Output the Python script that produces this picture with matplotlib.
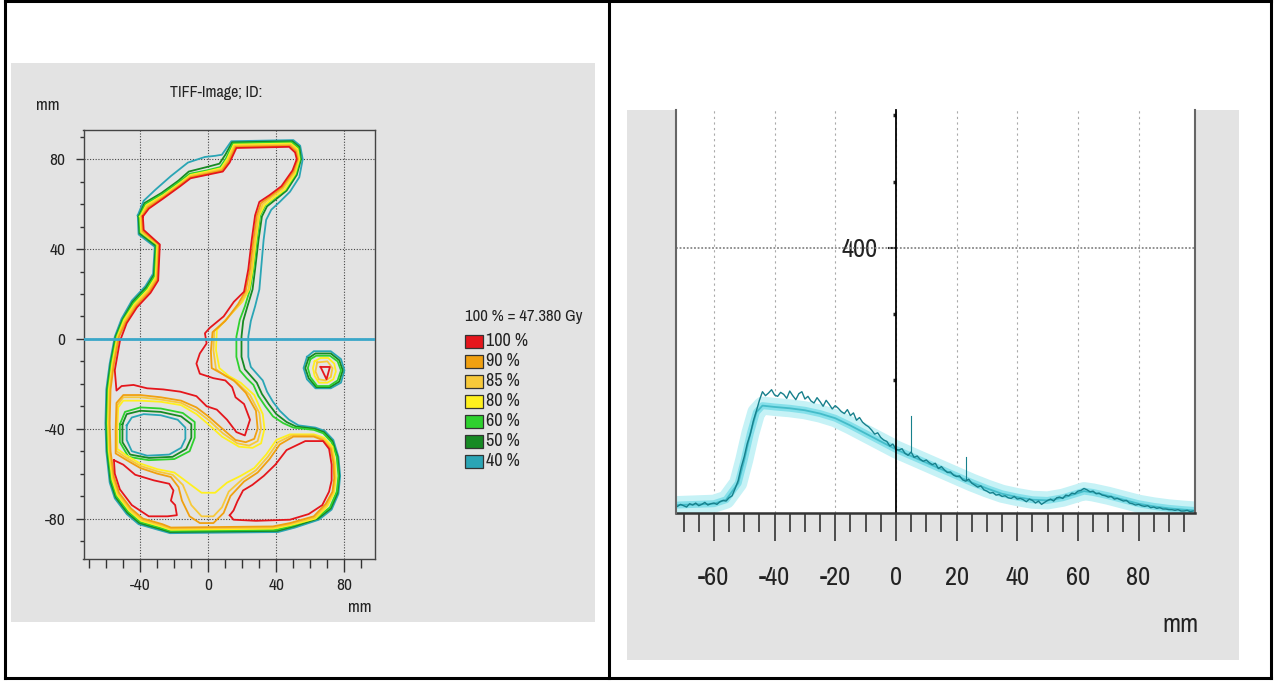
import numpy as np
import matplotlib
matplotlib.use('Agg')
import matplotlib.pyplot as plt
from matplotlib.patches import Rectangle
from matplotlib.lines import Line2D

W, H = 1278, 682

plt.rcParams['font.family'] = ['Archivo Narrow', 'Liberation Sans Narrow', 'Liberation Sans', 'DejaVu Sans']
plt.rcParams['axes.unicode_minus'] = False

# ---------------- isodose legend ----------------
legend_title = '100 % = 47.380 Gy'
iso_labels = ['100 %', '90 %', '85 %', '80 %', '60 %', '50 %', '40 %']
iso_colors = ['#e5161c', '#f0a010', '#f7c93a', '#fff01e', '#2ed12e', '#178a24', '#2aa5b5']

# ---------------- isodose contours (mm) ----------------
# 100 %
red_upper = [(-38.5, 54.5), (-35, 58), (-26.5, 62.5), (-16.5, 68), (-10.5, 71.5), (-1, 73), (8.5, 74.5),
             (12.5, 78.5), (16.5, 85), (47.5, 85.5), (51, 83), (52, 80), (49.5, 75), (43, 68), (36, 64),
             (30, 61), (27.5, 55), (25.5, 44), (23.5, 31), (21, 21), (15, 16.5), (9, 10), (1, 5), (-2, 2.5),
             (-1, -2), (-5, -6.5), (-7, -11), (-5, -15.5), (3, -17.5), (10, -18.5), (14, -21.5), (16, -26),
             (21, -29), (24.5, -36), (21.5, -43), (16.5, -41.5), (11, -36), (5, -31.5), (-1, -30), (-7, -25.5),
             (-16.5, -23.5), (-26.5, -22.5), (-36, -22), (-44, -20.5), (-51, -21), (-54, -23), (-55, -14),
             (-52, -1), (-48, 7), (-42, 14), (-34, 20.5), (-29.5, 26), (-28.5, 42), (-38, 48.5)]
red_lowleft = [(-55.5, -54), (-50, -56), (-43, -60.5), (-32, -63), (-23, -64.5), (-20.5, -67.5), (-22, -72),
               (-19.5, -74), (-18.5, -78.5), (-24, -79), (-35, -79), (-45, -74), (-52, -67), (-55, -60)]
red_lowright = [(12.6, -78.5), (14.8, -76.4), (17.1, -72.3), (20.4, -67.5), (25.9, -65), (32.6, -61),
                (39.4, -56), (46, -49.5), (57, -45.5), (67.5, -45.5), (71, -49), (72.5, -56), (72.5, -63),
                (71, -68), (67, -74), (59, -78), (48, -80.5), (28, -81), (14.8, -80.5)]
red_island = [(66, -12.5), (71.5, -12.5), (69.5, -18)]

# 90 %
orange_main = [(-39, 54.5), (-35.5, 58.5), (-26.5, 63), (-16.5, 68.5), (-10.5, 72), (-1, 73.5), (8, 75),
               (12, 79), (16, 85.5), (48, 86), (51.5, 83.5), (52.5, 80), (50, 74.5), (43.5, 67.5), (36.5, 63.5),
               (31, 60.5), (28.5, 55), (26.5, 44), (24.5, 31), (22, 21.5), (17.5, 15.5), (10, 8), (2.5, 3),
               (1.5, -5.5), (2, -13), (8, -15.5), (15, -18.5), (22, -24), (28, -32), (29, -40), (27, -44.5),
               (22, -46), (16, -45), (9, -40.5), (0, -34.5), (-7, -30.5), (-16, -27.5), (-28, -26), (-40, -25),
               (-50, -25), (-54, -28.5), (-54.5, -40), (-54.5, -51), (-48, -54), (-40, -57.5), (-30, -60),
               (-22, -61.5), (-17.5, -66), (-15.5, -72), (-11, -79), (-5, -82), (3, -82), (9, -77.5), (13, -70),
               (21, -63.5), (29, -59.5), (36, -53.5), (42, -47), (50, -43.5), (62, -43.5), (67, -45), (72, -49),
               (73.5, -55), (74, -62), (73, -68), (69, -73.5), (62, -79), (48, -82), (38, -83.5), (-22, -84),
               (-27, -82.5), (-38.5, -80), (-45.5, -75.5), (-52.5, -68.5), (-55.5, -61.5), (-57.5, -50),
               (-58, -37.5), (-57.5, -22.5), (-55.5, -11), (-52.5, 1), (-48.5, 7.5), (-42.5, 14.5), (-34.5, 21),
               (-30, 26.5), (-29, 42), (-38.5, 48)]

# 85 %
ltorange_main = [(-39.5, 54.5), (-36, 59), (-26.5, 63.5), (-16.5, 69), (-10.5, 72.5), (-1, 74), (8, 75.5),
                 (11.5, 79.5), (15.5, 86), (48.5, 86.5), (52, 84), (53, 80), (50.5, 74), (44, 67), (37, 63),
                 (32, 60), (29.5, 55), (27.5, 44), (25.5, 31), (23.5, 22), (19, 16), (11, 9), (3.5, 3.5),
                 (3, -5), (4.5, -13.5), (10, -16.5), (17, -19.5), (24.5, -25), (30, -33), (31, -40), (29, -45.5),
                 (24, -47.5), (17, -46.5), (8.5, -42), (0, -36), (-7, -32), (-16, -28.5), (-28, -27), (-40, -26),
                 (-50, -26), (-53.5, -29.5), (-54, -40), (-54, -50), (-48, -53), (-40, -56.5), (-30, -59),
                 (-21, -60.5), (-15, -65), (-10, -74), (-4, -79), (3, -79), (8, -75), (12, -68), (20, -62.5),
                 (28, -58.5), (35, -52.5), (41, -46), (49, -43), (62, -43), (67.5, -44.5), (72.5, -48.5),
                 (74, -55), (74.5, -62), (73.5, -68), (69.5, -74), (62.5, -79.5), (48, -82.5), (38, -84),
                 (-22, -84.5), (-27.5, -83), (-39, -80.5), (-46, -76), (-53, -69), (-56, -62), (-58, -50),
                 (-58.5, -37.5), (-58, -22.5), (-56, -11), (-53, 1), (-49, 8), (-43, 15), (-35, 21.5),
                 (-30.5, 27), (-29.5, 42), (-39, 47.5)]
ltorange_island = [(64, -10.5), (70, -10), (73, -13), (72, -17), (69, -18.5), (65, -18), (63, -14.5)]

# 80 %
yellow_main = [(-40, 54.5), (-36.5, 59.5), (-26.5, 64), (-16.5, 69.5), (-10.5, 73), (-1, 74.5), (7.5, 76),
               (11, 80), (15, 86.5), (48.5, 87), (52.5, 84.5), (53.5, 80), (51, 73.5), (45, 66.5), (38, 62.5),
               (33, 59.5), (30, 55), (28, 44), (26, 31), (24, 22), (20, 16.5), (12, 10), (5, 4), (4.5, -5),
               (6.5, -13), (12, -16.5), (19, -19.5), (27, -25), (32, -33.5), (33, -40), (31, -46.5), (26, -48.5),
               (18, -48), (8, -43.5), (0, -38), (-7, -33.5), (-16, -29.5), (-28, -28), (-40, -27.5), (-50, -27.5),
               (-53, -30.5), (-53.5, -40), (-53.5, -49), (-48, -52), (-40, -55.5), (-30, -58), (-20, -59.5),
               (-12, -64), (-4, -68.5), (4, -68.5), (11, -64), (19, -61), (27, -57.5), (34, -51.5), (40, -45),
               (48, -42.5), (62, -42.5), (68, -44), (73, -48), (74.5, -55), (75, -62), (74, -68.5), (70, -74.5),
               (63, -80), (48, -83), (38, -84.5), (-22, -85), (-28, -83.5), (-39.5, -81), (-46.5, -76.5),
               (-53.5, -69.5), (-56.5, -62.5), (-58.5, -50), (-59, -37.5), (-58.5, -22.5), (-56.5, -11),
               (-53.5, 1), (-49.5, 8.5), (-43.5, 15.5), (-35.5, 22), (-31, 27.5), (-30, 42), (-39.5, 47.5)]
yellow_island = [(62.5, -10), (66, -8.5), (70.5, -8.5), (74, -11), (75, -14.5), (73.5, -18), (70, -19.5),
                 (65, -19.5), (62.5, -16.5), (61.5, -13)]

# 60 %
green_main = [(-40.5, 54.5), (-37, 60), (-27, 64.5), (-17, 70), (-11, 73.5), (-1, 75), (7, 76.5), (10.5, 80.5),
              (14.5, 87), (49, 87.5), (53, 85), (54, 80), (51.5, 73.5), (45.5, 66.5), (38.5, 62.5), (33.5, 59.5),
              (30.5, 55), (28.5, 44), (26.5, 31), (24.5, 22), (21.5, 14.5), (18.5, 8.5), (16.5, 1), (16.5, -8),
              (18.5, -14), (22.5, -17.5), (26.5, -20.5), (29.5, -25.5), (33.5, -30), (38, -34.5), (44, -37.5),
              (50, -39.5), (62, -40.5), (67.5, -42), (72.5, -46), (75.5, -52.5), (76.5, -61), (75.5, -68),
              (71.5, -75), (64, -79.5), (50, -83), (40, -85), (-22.5, -85.5), (-28.5, -84), (-40, -81.5),
              (-47, -77), (-54, -70), (-57, -63), (-59, -50), (-59.5, -37.5), (-59, -22.5), (-57, -11),
              (-54, 1), (-50, 8.5), (-44, 16), (-36, 22.5), (-31.5, 28), (-30.5, 42), (-40, 47.5)]
green_hole = [(-52, -38), (-49, -32.5), (-40, -30.5), (-28, -31), (-15, -33), (-8, -37), (-8, -44), (-11, -50),
              (-20, -53.5), (-35, -54), (-47, -52.5), (-52, -46)]
green_island = [(60, -9), (63.5, -7.5), (71.5, -7.5), (76, -10), (78, -14), (76, -18.5), (71, -21), (64, -21),
                (60, -17), (58.5, -13)]

# 50 %
dkgreen_main = [(-41, 54.5), (-37.5, 60.5), (-27.5, 65), (-17.5, 70.5), (-11.5, 74.5), (-1, 76.5), (6.5, 78),
                (10, 82), (14, 87.5), (49.5, 88), (53.5, 85.5), (54.5, 80), (52, 73), (46, 66), (39.5, 62),
                (34.5, 59), (31.5, 54.5), (29.5, 44), (27.5, 31), (26, 22), (23, 14.5), (20.5, 8), (19.5, 1),
                (19.5, -8), (21.5, -13.5), (25, -16.5), (28.5, -19.5), (31.5, -24.5), (35.5, -29), (40, -33.5),
                (46, -37), (51.5, -39), (62.5, -40), (68, -41.5), (73, -45.5), (76, -52.5), (77, -61),
                (76, -68.5), (72, -75.5), (64.5, -80), (50.5, -83.5), (40.5, -85.5), (-22.5, -86), (-29, -84.5),
                (-40.5, -82), (-47.5, -77.5), (-54.5, -70.5), (-57.5, -63.5), (-59.5, -50), (-60, -37.5),
                (-59.5, -22.5), (-57.5, -11), (-54.5, 1), (-50.5, 8.5), (-44.5, 16.5), (-36.5, 23), (-32, 28.5),
                (-31, 41.5), (-40.5, 47)]
dkgreen_hole = [(-50.5, -38), (-48, -33.5), (-40, -32), (-28, -32.5), (-16, -34.5), (-10, -38), (-10, -44),
                (-13, -49), (-21, -52.5), (-35, -53), (-46, -51.5), (-50.5, -46)]
dkgreen_island = [(59, -8.5), (63, -6.5), (72, -6.5), (77, -9.5), (79, -14), (77, -19), (71.5, -21.5),
                  (63.5, -21.5), (59, -17.5), (57, -13)]

# 40 %
teal_main = [(-41.5, 55), (-38, 61.5), (-31, 66.5), (-22, 72.5), (-12, 78.5), (-2, 81), (4, 81.5), (8, 82),
             (13.5, 88), (50, 88.5), (54, 86), (55.5, 80), (53.5, 72), (48, 65.5), (42, 61), (37, 57.5),
             (34, 53), (32.5, 44), (31, 31), (30, 22), (27.5, 14.5), (25, 8), (23.5, 1), (23.5, -8), (25, -12.5),
             (28.5, -15.5), (32, -18.5), (34.5, -23.5), (38, -28), (42, -32), (47.5, -36), (53, -38.5),
             (63, -39.5), (68.5, -41), (73.5, -45), (76.5, -52.5), (77.5, -61), (76.5, -69), (72.5, -76),
             (65, -80.5), (51, -84), (41, -86), (-22.5, -86.5), (-29.5, -85), (-41, -82.5), (-48, -78),
             (-55, -71), (-58, -64), (-60, -50), (-60.5, -37.5), (-60, -22.5), (-58, -11), (-55, 1), (-51, 9),
             (-45, 17), (-37, 23.5), (-32.5, 29), (-31.5, 41), (-41, 46.5)]
teal_hole = [(-48, -38.5), (-45, -35), (-38, -33.5), (-28, -34), (-18, -36), (-13.5, -39.5), (-13.5, -44.5),
             (-16, -48.5), (-23, -51.5), (-36, -52), (-45, -50), (-48, -45)]
teal_island = [(58, -8), (62, -5.5), (72, -5.5), (78, -9), (80, -14), (78, -19.5), (72, -22), (63, -22),
               (58, -18), (56, -13)]

# drawn from the lowest level up
iso_contours = [
    ('#2aa5b5', [teal_main, teal_hole, teal_island]),
    ('#178a24', [dkgreen_main, dkgreen_hole, dkgreen_island]),
    ('#2ed12e', [green_main, green_hole, green_island]),
    ('#fff01e', [yellow_main, yellow_island]),
    ('#f7c93a', [ltorange_main, ltorange_island]),
    ('#f0a010', [orange_main]),
    ('#e5161c', [red_upper, red_lowleft, red_lowright, red_island]),
]

# ---------------- profile (right panel) ----------------
meas_x = np.arange(-72, 99)
meas_y = [10, 13, 11, 9, 14, 12, 15, 11, 13, 16, 12, 14,
          15, 13, 17, 19, 18,
          23, 26, 37, 49, 69,
          85, 105, 119, 139, 154, 170,
          183, 177, 181, 186, 178,
          176, 182, 179, 173, 184, 177, 171, 180, 183, 172,
          176, 169, 166, 174, 168, 161, 170, 164, 157, 162,
          158, 153, 150, 156, 147, 151, 140, 144, 137, 133,
          130, 125, 119, 121, 114, 110, 108, 101, 104, 96,
          95, 97, 90, 87, 92, 84, 86, 81, 78, 80,
          76, 73, 75, 67, 70, 65, 61, 62, 57, 55,
          56, 50, 48, 51, 45, 42, 39, 41, 35, 33,
          30, 31, 27, 28, 25, 26, 23, 22, 25, 21,
          22, 20, 17, 21, 19, 15, 18, 13, 16, 19,
          21, 18, 23, 24, 22, 27, 26, 30, 29, 33,
          34, 37, 35, 32, 33, 29, 30, 27, 26, 24,
          25, 21, 22, 20, 18, 19, 15, 14, 12, 13,
          11, 10, 11, 8, 9, 7, 8, 6, 6, 5,
          5, 4, 5, 3, 3, 4, 2, 3]
calc_x = [-72, -60, -56, -52, -50, -48, -46, -44, -40, -35, -30, -25, -20, -15, -10, -5, 0, 5, 10, 15, 20,
          25, 30, 35, 40, 45, 50, 55, 60, 62, 65, 70, 75, 80, 85, 90, 95, 98]
calc_y = [12, 14, 20, 45, 80, 120, 152, 162, 160, 158, 155, 150, 143, 132, 120, 108, 96, 86, 76, 66, 56,
          46, 37, 29, 24, 20, 19, 23, 30, 33, 31, 26, 20, 14, 10, 7, 5, 4]
spike_x = [5, 23]
spike_lo = [92, 52]
spike_hi = [146, 84]


def fx(px):
    return px / W


def fy(py):
    return 1 - py / H


def box(l, t, r, b):
    return [fx(l), fy(b), (r - l) / W, (b - t) / H]


fig = plt.figure(figsize=(W / 100, H / 100), dpi=100)
fig.patch.set_facecolor('white')

for l, t, r, b in [(11, 63, 595, 622), (627, 110, 1239, 660)]:
    fig.add_artist(Rectangle((fx(l), fy(b)), (r - l) / W, (b - t) / H, transform=fig.transFigure,
                             facecolor='#e3e3e3', edgecolor='none', zorder=-5))

# ---------------- left: isodose map ----------------
ax1 = fig.add_axes(box(83.5, 130, 375, 559))
ax1.set_facecolor('#e3e3e3')
ax1.set_axisbelow(True)
for color, polys in iso_contours:
    for pts in polys:
        a = np.array(pts + [pts[0]])
        ax1.plot(a[:, 0], a[:, 1], color=color, lw=1.3, solid_joinstyle='round')
ax1.axhline(0, color='#3aa7c9', lw=2, zorder=4)
ax1.set_xlim(-73.4, 98)
ax1.set_ylim(-98, 93)
ax1.set_xticks([-40, 0, 40, 80])
ax1.set_xticks(np.arange(-70, 91, 10), minor=True)
ax1.set_yticks([-80, -40, 0, 40, 80])
ax1.set_yticks(np.arange(-90, 91, 10), minor=True)
ax1.grid(True, which='major', ls=(0, (1, 1.5)), color='#444', lw=0.8)
ax1.tick_params(which='both', direction='out', color='#333', width=1, labelsize=12.5, labelcolor='#222')
ax1.tick_params(axis='x', which='major', length=9, pad=5)
ax1.tick_params(axis='x', which='minor', length=6.5)
ax1.tick_params(axis='y', which='major', length=6, pad=7)
ax1.tick_params(axis='y', which='minor', length=3)
for s in ax1.spines.values():
    s.set_color('#444')
    s.set_linewidth(1)

fig.text(fx(216), fy(92), 'TIFF-Image; ID:', ha='center', va='center', fontsize=11.5, color='#222')
fig.text(fx(48), fy(105), 'mm', ha='center', va='center', fontsize=12.5, color='#222')
fig.text(fx(360), fy(607), 'mm', ha='center', va='center', fontsize=12.5, color='#222')

# legend
fig.text(fx(465), fy(316), legend_title, ha='left', va='center', fontsize=12, color='#222')
for i, (lab, col) in enumerate(zip(iso_labels, iso_colors)):
    yc = 341 + 20 * i
    fig.add_artist(Rectangle((fx(465), fy(yc + 6.5)), 18 / W, 13 / H, transform=fig.transFigure,
                             facecolor=col, edgecolor='#333', lw=0.9))
    fig.text(fx(486), fy(yc), lab, ha='left', va='center', fontsize=13, color='#222')

# ---------------- right: profile ----------------
ax2 = fig.add_axes(box(676, 110, 1195, 513))
ax2.set_facecolor('white')
ax2.plot(calc_x, calc_y, color='#c6f2f6', lw=13, solid_capstyle='round')
ax2.plot(calc_x, calc_y, color='#86e0ea', lw=5)
ax2.plot(calc_x, calc_y, color='#44bcc9', lw=1.3)
ax2.plot(meas_x, meas_y, color='#17808c', lw=1.0)
for sx, lo, hi in zip(spike_x, spike_lo, spike_hi):
    ax2.plot([sx, sx], [lo, hi], color='#17808c', lw=0.8)
ax2.axhline(400, ls=(0, (1, 1)), color='#888', lw=1.3)
ax2.set_xlim(-72.5, 98.6)
ax2.set_ylim(0, 608)
ax2.set_xticks(np.arange(-60, 81, 20))
ax2.set_xticks(np.arange(-70, 96, 5), minor=True)
ax2.set_yticks([400])
ax2.set_yticks([100, 200, 300, 500, 600], minor=True)
ax2.grid(True, axis='x', which='major', ls=(0, (2, 3)), color='#aaa', lw=0.8)
ax2.tick_params(axis='x', which='major', direction='out', length=20, width=1.2, color='#333', pad=18,
                labelsize=19, labelcolor='#222')
ax2.tick_params(axis='x', which='minor', direction='out', length=14, width=1.2, color='#333')
ax2.tick_params(axis='y', which='major', direction='out', length=6, width=1.5, color='#222', pad=7,
                labelsize=19, labelcolor='#222')
ax2.tick_params(axis='y', which='minor', direction='out', length=2.5, width=2.5, color='#222')
ax2.spines['top'].set_visible(False)
ax2.spines['left'].set_position(('data', 0))
ax2.spines['left'].set_color('black')
ax2.spines['left'].set_linewidth(1.3)
ax2.spines['right'].set_color('#666')
ax2.spines['right'].set_linewidth(1.5)
ax2.spines['bottom'].set_color('#333')
ax2.spines['bottom'].set_linewidth(1.8)
fig.add_artist(Line2D([fx(675.5), fx(675.5)], [fy(110), fy(513)], transform=fig.transFigure,
                      color='#666', lw=1.5))
fig.text(fx(1180), fy(625), 'mm', ha='center', va='center', fontsize=19, color='#222')

# ---------------- table borders ----------------
for x in (5, 609, 1271):
    fig.add_artist(Line2D([fx(x), fx(x)], [fy(1), fy(678)], transform=fig.transFigure, color='black', lw=2.2))
for y in (1, 678):
    fig.add_artist(Line2D([fx(5), fx(1271)], [fy(y), fy(y)], transform=fig.transFigure, color='black', lw=2.2))

fig.savefig('out.png', dpi=100)
